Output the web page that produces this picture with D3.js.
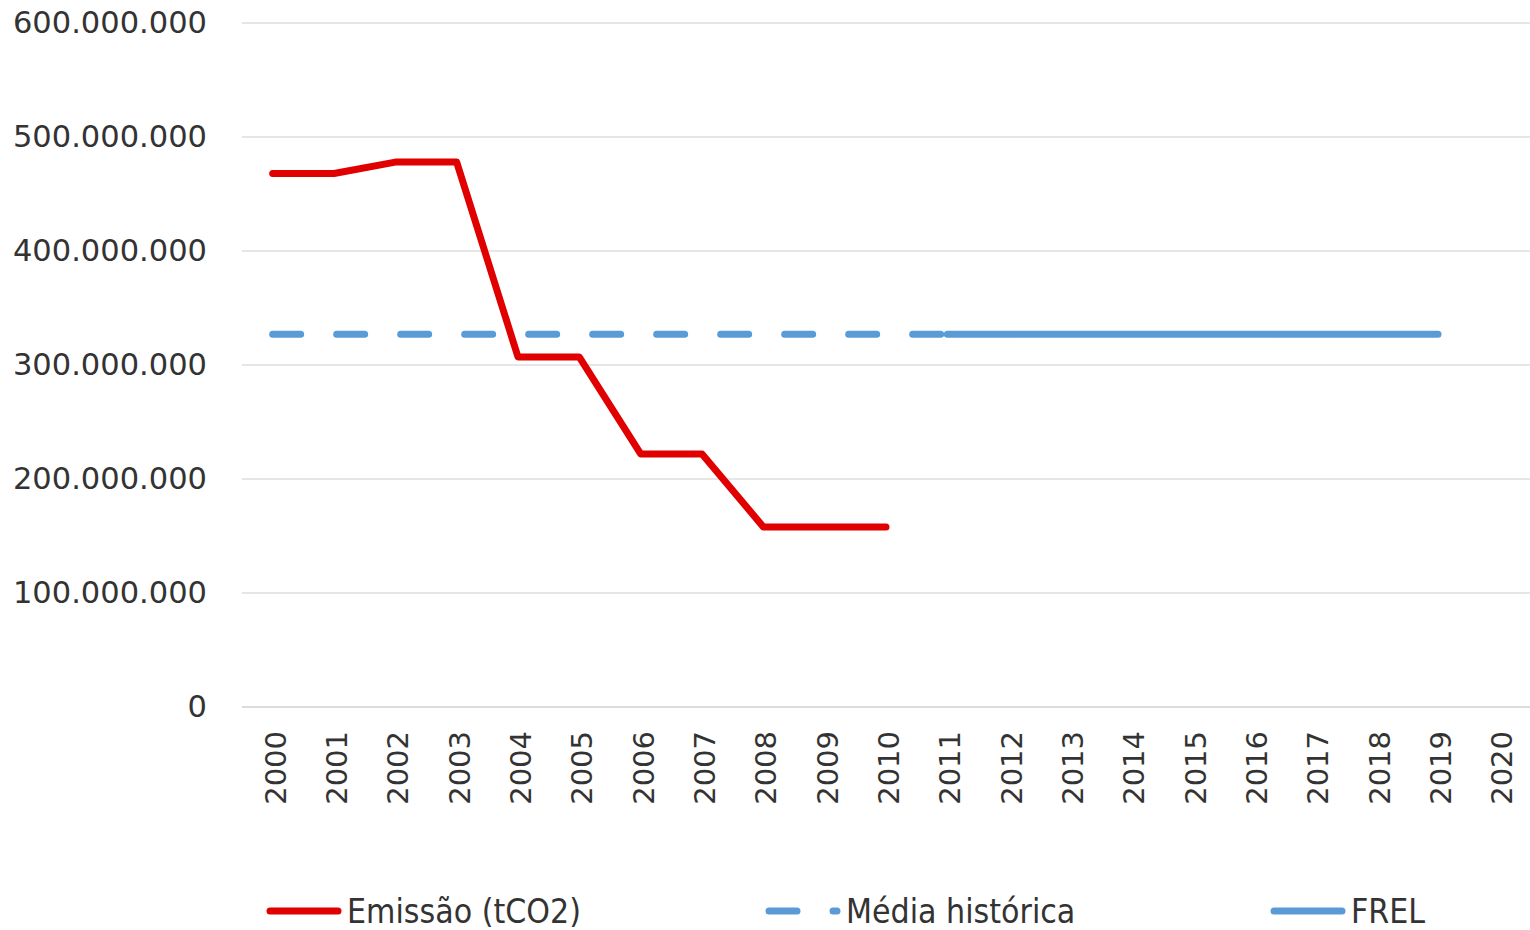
<!DOCTYPE html>
<html>
<head>
<meta charset="utf-8">
<script src="https://cdn.jsdelivr.net/npm/d3@7"></script>
<style>
  body { margin: 0; background: #fff; }
</style>
</head>
<body>
<div id="chart-container"></div>
<script>
//Chart data

const years = ["2000","2001","2002","2003","2004","2005","2006","2007","2008","2009","2010",
  "2011","2012","2013","2014","2015","2016","2017","2018","2019","2020"];
const emissao = [468e6, 468e6, 478e6, 478e6, 307e6, 307e6, 222e6, 222e6, 158e6, 158e6, 158e6];
const mediaHistorica = [327e6, 327e6, 327e6, 327e6, 327e6, 327e6, 327e6, 327e6, 327e6, 327e6, 327e6, 327e6];
const frel = [null, null, null, null, null, null, null, null, null, null, null,
  327e6, 327e6, 327e6, 327e6, 327e6, 327e6, 327e6, 327e6, 327e6];
const yTicks = [0, 100e6, 200e6, 300e6, 400e6, 500e6, 600e6];
const legendLabels = ["Emissão (tCO2)", "Média histórica", "FREL"];

//Chart dimensions

const W = 1530, H = 930;
const margin = { top: 23, right: 0, bottom: 223, left: 242 };
const width = W - margin.left - margin.right;
const height = H - margin.top - margin.bottom;

const red = "#e00000";
const blue = "#5b9bd5";

const svg = d3.select("#chart-container")
  .append("svg")
  .attr("width", W)
  .attr("height", H);

const g = svg.append("g")
  .attr("transform", `translate(${margin.left},${margin.top})`);

//Scales

const xScale = d3.scaleBand().domain(years).range([0, width]);
const yScale = d3.scaleLinear().domain([0, 600e6]).range([height, 0]);
const xc = (d) => xScale(d) + xScale.bandwidth() / 2;

//Horizontal gridlines

g.selectAll(".yGrid")
  .data(yTicks)
  .join("line")
  .attr("class", "yGrid")
  .attr("x1", 0)
  .attr("x2", width)
  .attr("y1", (d) => yScale(d))
  .attr("y2", (d) => yScale(d))
  .attr("stroke", (d) => d === 0 ? "#d0d0d0" : "#dedede")
  .attr("stroke-width", 1.3);

//Y axis labels

const fmt = (d) => d3.format(",")(d).replace(/,/g, ".");

g.append("g")
  .call(d3.axisLeft(yScale)
    .tickValues(yTicks)
    .tickFormat(fmt)
    .tickSize(0)
    .tickPadding(35))
  .call((a) => a.select(".domain").remove())
  .selectAll(".tick text")
    .style("font-family", "DejaVu Sans, sans-serif")
    .style("font-size", "30.5px")
    .attr("fill", "#333");

//X axis labels (rotated)

g.append("g")
  .attr("transform", `translate(0, ${height})`)
  .call(d3.axisBottom(xScale).tickSize(0).tickPadding(0))
  .call((a) => a.select(".domain").remove())
  .selectAll(".tick text")
    .style("font-family", "DejaVu Sans, sans-serif")
    .style("font-size", "29px")
    .attr("fill", "#333")
    .attr("text-anchor", "end")
    .attr("transform", "rotate(-90)")
    .attr("x", -24)
    .attr("y", 3)
    .attr("dy", "0.35em");

//Lines

const line = d3.line()
  .defined((d) => d != null)
  .x((d, i) => xc(years[i]))
  .y((d) => yScale(d));

g.append("path")
  .datum(mediaHistorica)
  .attr("fill", "none")
  .attr("stroke", blue)
  .attr("stroke-width", 7)
  .attr("stroke-linecap", "round")
  .attr("stroke-dasharray", "28,36")
  .attr("d", line);

g.append("path")
  .datum(frel)
  .attr("fill", "none")
  .attr("stroke", blue)
  .attr("stroke-width", 7)
  .attr("stroke-linecap", "round")
  .attr("d", line);

g.append("path")
  .datum(emissao)
  .attr("fill", "none")
  .attr("stroke", red)
  .attr("stroke-width", 7)
  .attr("stroke-linecap", "round")
  .attr("stroke-linejoin", "round")
  .attr("d", line);

//Legend

const legendItems = [
  { label: legendLabels[0], x: 270, color: red, dash: null },
  { label: legendLabels[1], x: 769, color: blue, dash: "28,36" },
  { label: legendLabels[2], x: 1274, color: blue, dash: null }
];

const legend = svg.append("g").attr("transform", "translate(0, 911)");

legendItems.forEach((it) => {
  legend.append("line")
    .attr("x1", it.x)
    .attr("x2", it.x + 68)
    .attr("y1", 0)
    .attr("y2", 0)
    .attr("stroke", it.color)
    .attr("stroke-width", 7)
    .attr("stroke-linecap", "round")
    .attr("stroke-dasharray", it.dash);
  legend.append("text")
    .attr("x", it.x + 77)
    .attr("y", 0)
    .attr("dy", "0.36em")
    .style("font-family", "DejaVu Sans Condensed, DejaVu Sans, sans-serif")
    .style("font-size", "33.5px")
    .attr("fill", "#333")
    .text(it.label);
});
</script>
</body>
</html>
